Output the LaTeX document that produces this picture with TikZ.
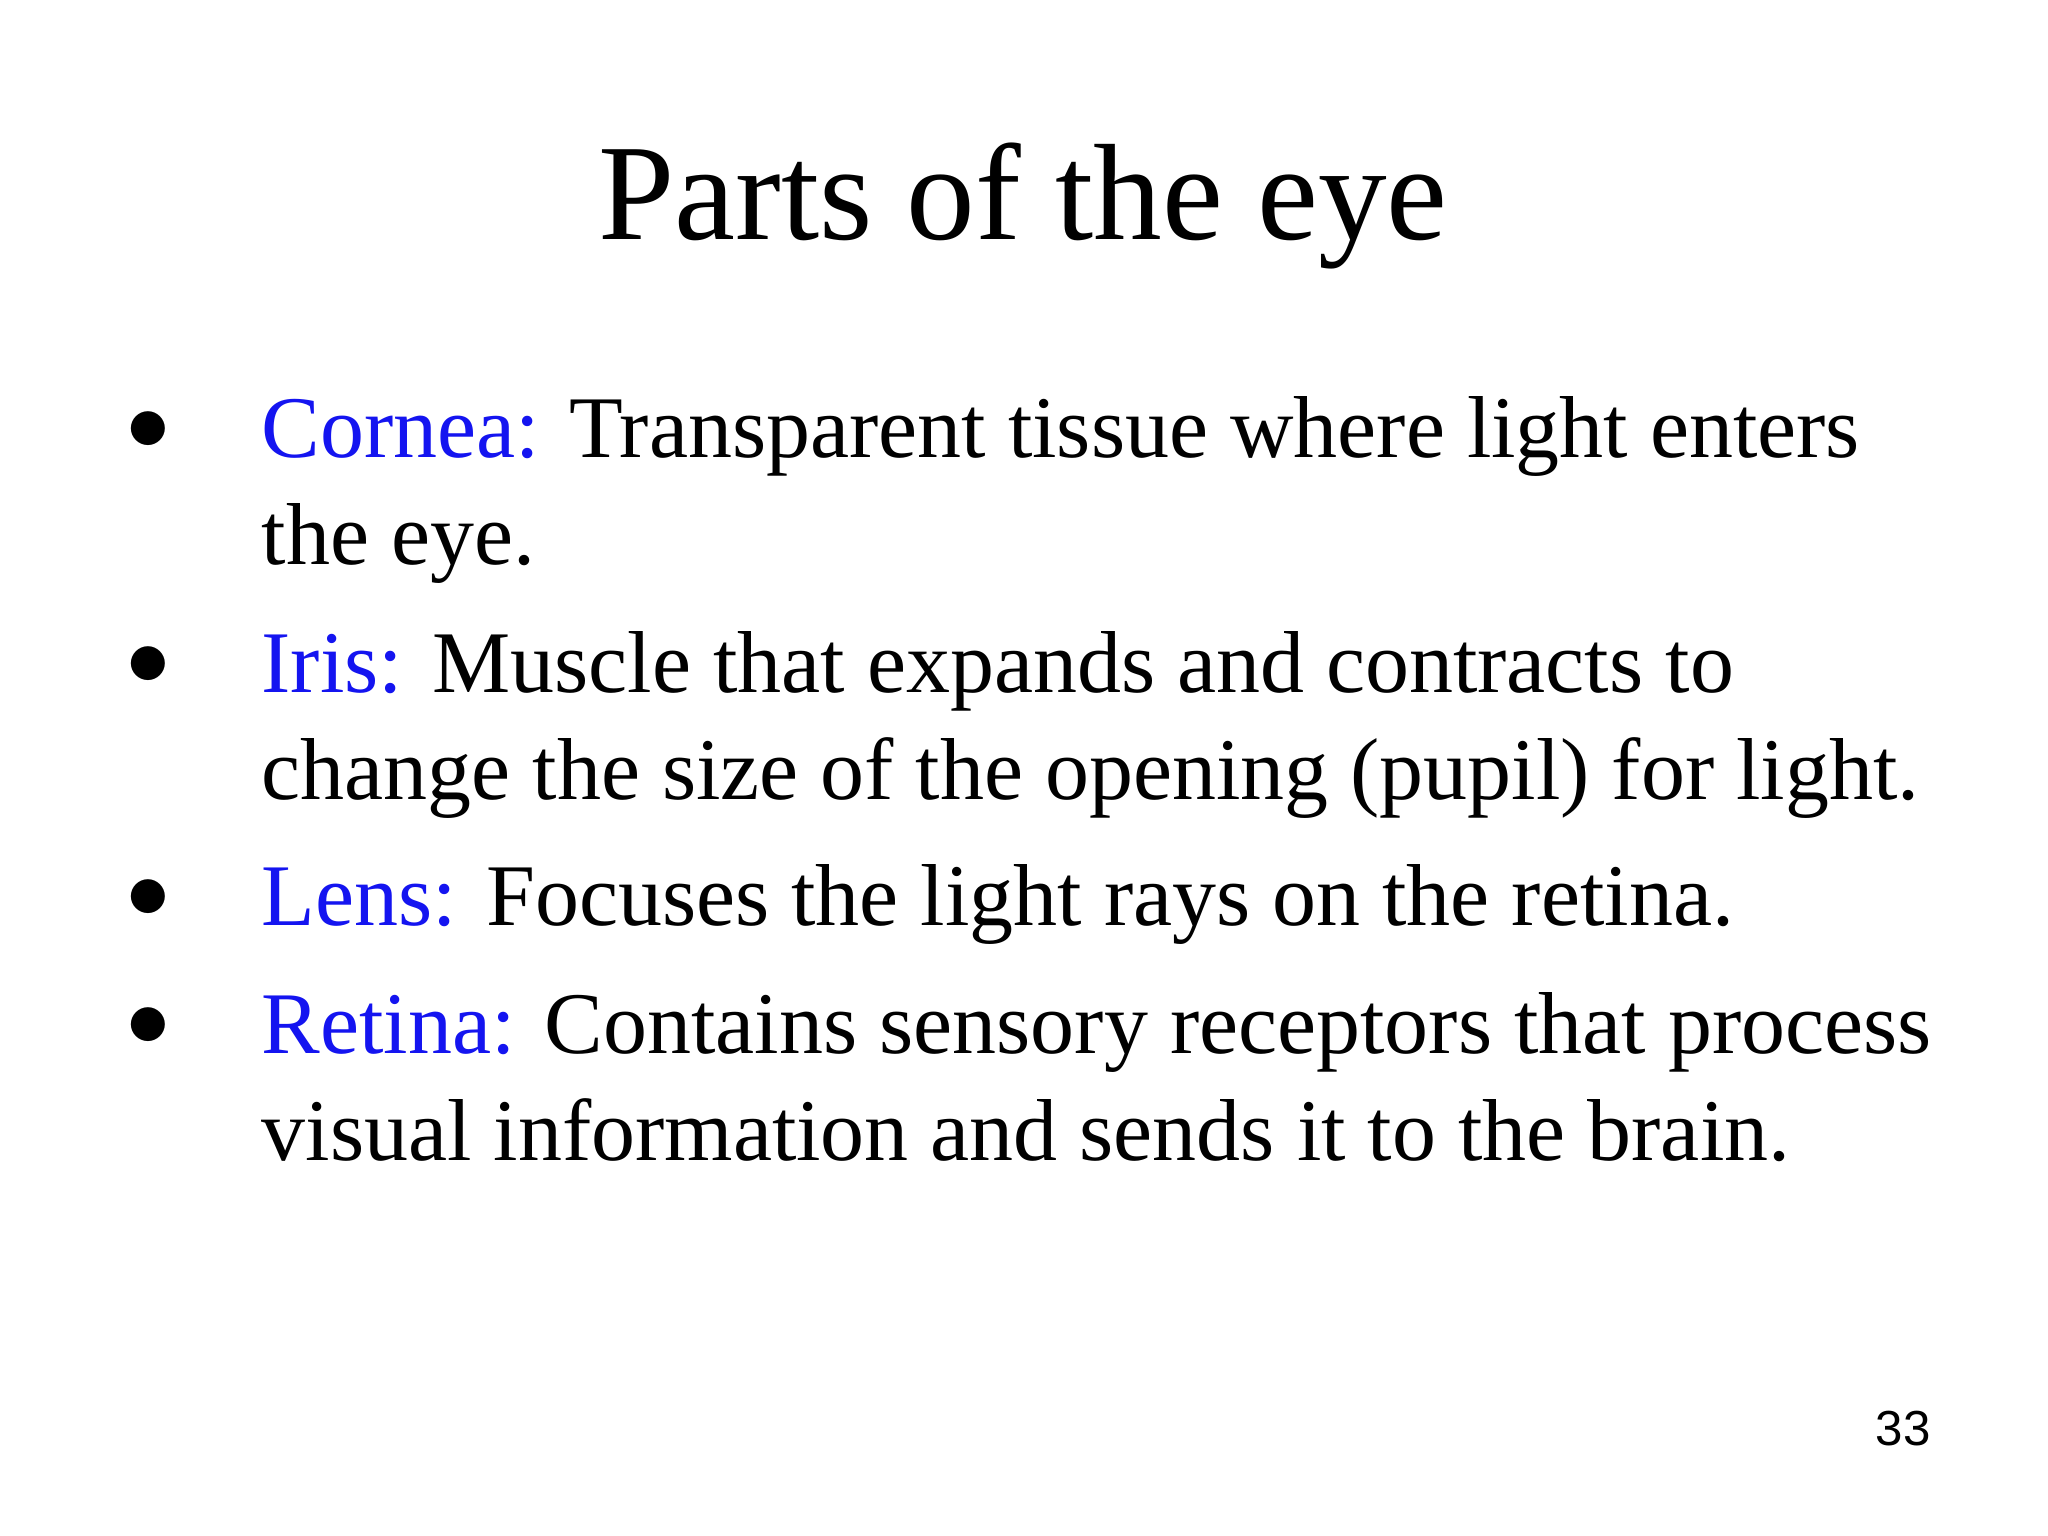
\documentclass[tikz,border=0pt]{standalone}
\usepackage{fontspec}
\setmainfont{Liberation Serif}
\newfontfamily\pagenum{Liberation Sans}
\definecolor{termblue}{RGB}{20,20,240}
\begin{document}
\begin{tikzpicture}[x=0.01cm,y=-0.01cm,
  line/.style={anchor=base west,inner sep=0pt,font=\fontsize{25}{30}\selectfont},
  bul/.style={anchor=base,inner sep=0pt,font=\fontsize{25}{30}\selectfont}]
\useasboundingbox[fill=white] (0,0) rectangle (2048,1536);
\node[anchor=base,inner sep=0pt,font=\fontsize{39}{44}\selectfont] (title) at (1023,239) {Parts of the eye};
\node[bul] (b1) at (148,450) {$\bullet$};
\node[bul] (b2) at (148,685) {$\bullet$};
\node[bul] (b3) at (148,918) {$\bullet$};
\node[bul] (b4) at (148,1046) {$\bullet$};
\node[line] (l1) at (261,457) {\textcolor{termblue}{Cornea:} Transparent tissue where light enters};
\node[line] (l2) at (261,564) {the eye.};
\node[line] (l3) at (261,692) {\textcolor{termblue}{Iris:} Muscle that expands and contracts to};
\node[line] (l4) at (261,799) {change the size of the opening (pupil) for light.};
\node[line] (l5) at (261,925) {\textcolor{termblue}{Lens:} Focuses the light rays on the retina.};
\node[line] (l6) at (261,1053) {\textcolor{termblue}{Retina:} Contains sensory receptors that process};
\node[line] (l7) at (261,1160) {visual information and sends it to the brain.};
\node[anchor=base,inner sep=0pt,font=\pagenum\fontsize{14}{16}\selectfont] (pn) at (1903,1445) {33};
\end{tikzpicture}
\end{document}
